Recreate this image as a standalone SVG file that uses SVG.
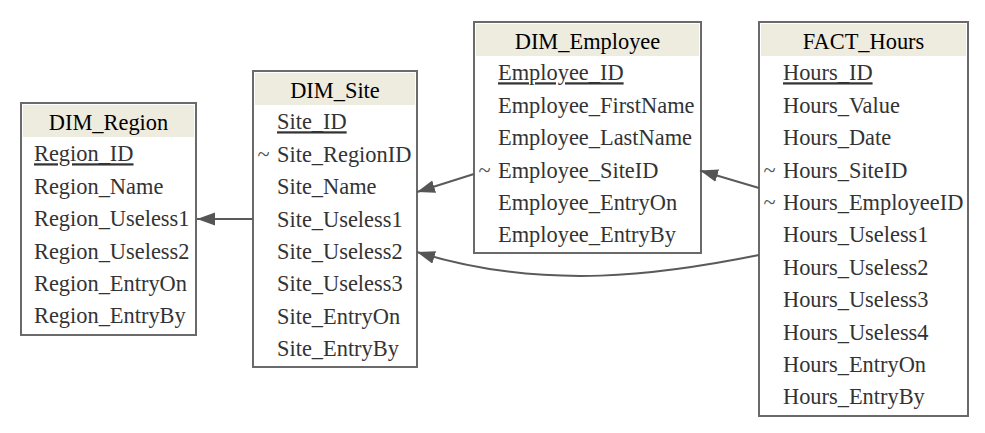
<svg xmlns="http://www.w3.org/2000/svg" width="985" height="433" viewBox="0 0 985 433">
<defs>
<marker id="arr" markerUnits="userSpaceOnUse" markerWidth="19" markerHeight="14" refX="18" refY="6.5" orient="auto" viewBox="0 0 19 14">
<path d="M0,0 L18,6.5 L0,13 z" fill="#555"/>
</marker>
<style>
.box{fill:#fff;stroke:#6a6a6a;stroke-width:2}
.hdr{fill:#eeebdf}
.title{font-family:"Liberation Serif","Times New Roman",serif;font-size:22.4px;fill:#000;text-anchor:middle}
.row{font-family:"Liberation Serif","Times New Roman",serif;font-size:22.4px;fill:#333}
.pk{text-decoration:underline}
.fk{font-family:"Liberation Serif","Times New Roman",serif;font-size:22.4px;fill:#555}
.edge{fill:none;stroke:#5a5a5a;stroke-width:2;marker-end:url(#arr)}
</style>
</defs>
<rect width="985" height="433" fill="#fff"/>

<g id="DIM_Region">
<rect class="box" x="21" y="103" width="175" height="232"/>
<rect class="hdr" x="23" y="105" width="171" height="32"/>
<text class="title" x="108.5" y="129.5">DIM_Region</text>
<text class="row pk" x="34" y="161.3">Region_ID</text>
<text class="row" x="34" y="193.7">Region_Name</text>
<text class="row" x="34" y="226.1">Region_Useless1</text>
<text class="row" x="34" y="258.5">Region_Useless2</text>
<text class="row" x="34" y="290.9">Region_EntryOn</text>
<text class="row" x="34" y="323.3">Region_EntryBy</text>
</g>

<g id="DIM_Site">
<rect class="box" x="253" y="71" width="164" height="296"/>
<rect class="hdr" x="255" y="73" width="160" height="32"/>
<text class="title" x="335" y="97.5">DIM_Site</text>
<text class="row pk" x="277" y="129.3">Site_ID</text>
<text class="fk" x="257.5" y="161.7">~</text>
<text class="row" x="277" y="161.7">Site_RegionID</text>
<text class="row" x="277" y="194.1">Site_Name</text>
<text class="row" x="277" y="226.5">Site_Useless1</text>
<text class="row" x="277" y="258.9">Site_Useless2</text>
<text class="row" x="277" y="291.3">Site_Useless3</text>
<text class="row" x="277" y="323.7">Site_EntryOn</text>
<text class="row" x="277" y="356.1">Site_EntryBy</text>
</g>

<g id="DIM_Employee">
<rect class="box" x="474" y="22" width="227" height="231"/>
<rect class="hdr" x="476" y="24" width="223" height="32"/>
<text class="title" x="587.5" y="48.5">DIM_Employee</text>
<text class="row pk" x="498" y="80.3">Employee_ID</text>
<text class="row" x="498" y="112.7">Employee_FirstName</text>
<text class="row" x="498" y="145.1">Employee_LastName</text>
<text class="fk" x="478.5" y="177.5">~</text>
<text class="row" x="498" y="177.5">Employee_SiteID</text>
<text class="row" x="498" y="209.9">Employee_EntryOn</text>
<text class="row" x="498" y="242.3">Employee_EntryBy</text>
</g>

<g id="FACT_Hours">
<rect class="box" x="759" y="22" width="209" height="394"/>
<rect class="hdr" x="761" y="24" width="205" height="32"/>
<text class="title" x="863.5" y="48.5">FACT_Hours</text>
<text class="row pk" x="783" y="80.3">Hours_ID</text>
<text class="row" x="783" y="112.7">Hours_Value</text>
<text class="row" x="783" y="145.1">Hours_Date</text>
<text class="fk" x="763.5" y="177.5">~</text>
<text class="row" x="783" y="177.5">Hours_SiteID</text>
<text class="fk" x="763.5" y="209.9">~</text>
<text class="row" x="783" y="209.9">Hours_EmployeeID</text>
<text class="row" x="783" y="242.3">Hours_Useless1</text>
<text class="row" x="783" y="274.7">Hours_Useless2</text>
<text class="row" x="783" y="307.1">Hours_Useless3</text>
<text class="row" x="783" y="339.5">Hours_Useless4</text>
<text class="row" x="783" y="371.9">Hours_EntryOn</text>
<text class="row" x="783" y="404.3">Hours_EntryBy</text>
</g>

<g id="connectors">
<path class="edge" d="M253,219 L197,219"/>
<path class="edge" d="M474,174 L417,192"/>
<path class="edge" d="M759,188 L700,170.5"/>
<path class="edge" d="M759,255 C665,274 545,292 417,252"/>
</g>
</svg>
